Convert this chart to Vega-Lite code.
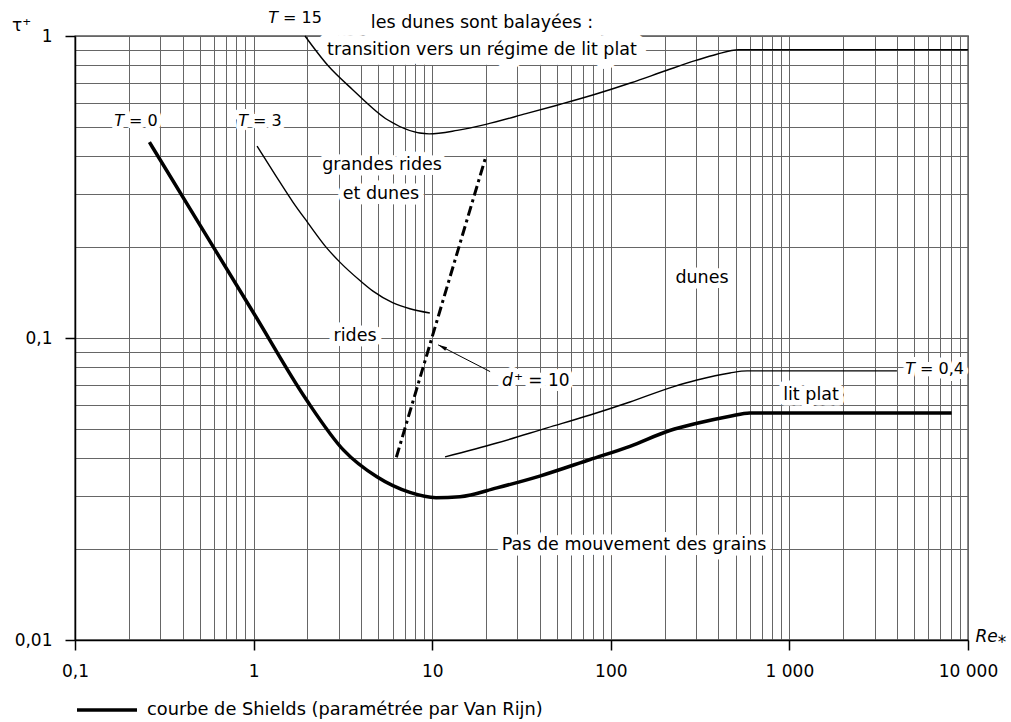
{
  "$schema": "https://vega.github.io/schema/vega-lite/v6.json",
  "width": 893,
  "height": 604,
  "autosize": "none",
  "padding": {"left": 75, "top": 36, "right": 43, "bottom": 82},
  "background": "white",
  "config": {
    "font": "DejaVu Sans",
    "view": {"stroke": "black", "strokeWidth": 1.3},
    "axis": {
      "grid": true,
      "gridColor": "#666666",
      "gridWidth": 1,
      "domainColor": "black",
      "domainWidth": 1.5,
      "tickColor": "black",
      "tickWidth": 1.5,
      "tickSize": 10,
      "labelColor": "black",
      "labelFontSize": 17,
      "labelFont": "DejaVu Sans",
      "labelOverlap": false,
      "labelFlush": false,
      "labelBound": false,
      "titleFont": "DejaVu Sans",
      "titleFontSize": 17,
      "titleFontWeight": "normal",
      "titleColor": "black"
    }
  },
  "datasets": {
    "shields": [
      {"x": 0.261, "y": 0.445}, {"x": 0.5, "y": 0.237}, {"x": 1, "y": 0.121}, {"x": 1.98, "y": 0.0623},
      {"x": 3.18, "y": 0.0426}, {"x": 4.9, "y": 0.0347}, {"x": 7.5, "y": 0.0308}, {"x": 10.5, "y": 0.0296},
      {"x": 14.3, "y": 0.0298}, {"x": 23, "y": 0.0319}, {"x": 40, "y": 0.0349}, {"x": 76.6, "y": 0.0396},
      {"x": 128, "y": 0.0438}, {"x": 214, "y": 0.0494}, {"x": 304, "y": 0.0522}, {"x": 465, "y": 0.0551},
      {"x": 600, "y": 0.0565}, {"x": 8100, "y": 0.0565}
    ],
    "t3": [
      {"x": 1.045, "y": 0.432}, {"x": 1.33, "y": 0.345}, {"x": 1.66, "y": 0.282}, {"x": 2.0, "y": 0.242},
      {"x": 2.58, "y": 0.198}, {"x": 3.05, "y": 0.178}, {"x": 3.94, "y": 0.155}, {"x": 4.66, "y": 0.143},
      {"x": 6.0, "y": 0.131}, {"x": 7.5, "y": 0.125}, {"x": 9.7, "y": 0.121}
    ],
    "t15": [
      {"x": 1.94, "y": 1.0}, {"x": 2.6, "y": 0.8}, {"x": 3.6, "y": 0.663}, {"x": 5.65, "y": 0.527},
      {"x": 9.6, "y": 0.474}, {"x": 13.8, "y": 0.487}, {"x": 20, "y": 0.51}, {"x": 33.5, "y": 0.553},
      {"x": 50, "y": 0.59}, {"x": 81, "y": 0.64}, {"x": 130, "y": 0.7}, {"x": 206, "y": 0.77},
      {"x": 300, "y": 0.83}, {"x": 392, "y": 0.87}, {"x": 520, "y": 0.9}, {"x": 10000, "y": 0.9}
    ],
    "t04": [
      {"x": 11.8, "y": 0.0404}, {"x": 23, "y": 0.0449}, {"x": 44, "y": 0.0504}, {"x": 76.6, "y": 0.0556},
      {"x": 128, "y": 0.0614}, {"x": 223, "y": 0.0689}, {"x": 304, "y": 0.0726}, {"x": 465, "y": 0.0766},
      {"x": 580, "y": 0.0778}, {"x": 4000, "y": 0.0778}
    ],
    "dplus": [{"x": 6.3, "y": 0.0403}, {"x": 20, "y": 0.4}],
    "arrow": [{"x": 21.1, "y": 0.0774}, {"x": 10.8, "y": 0.0949}],
    "arrowHead": [{"x": 10.8, "y": 0.0949}],
    "centerLabels": [
      {"x": 19.0, "y": 1.104, "text": "les dunes sont balayées :"},
      {"x": 19.0, "y": 0.899, "text": "transition vers un régime de lit plat"},
      {"x": 5.24, "y": 0.374, "text": "grandes rides"},
      {"x": 5.16, "y": 0.3, "text": "et dunes"},
      {"x": 3.7, "y": 0.1015, "text": "rides"},
      {"x": 324, "y": 0.158, "text": "dunes"},
      {"x": 1321, "y": 0.0648, "text": "lit plat"},
      {"x": 135, "y": 0.0206, "text": "Pas de mouvement des grains"}
    ],
    "topLabels": [
      {"x": 19.0, "y": 1.104, "text": "les dunes sont balayées :"},
      {"x": 19.0, "y": 0.899, "text": "transition vers un régime de lit plat"}
    ],
    "tLabels": [
      {"x": 1.37, "y": 1.147, "pre": "T", "rest": "= 15"},
      {"x": 0.188, "y": 0.523, "pre": "T", "rest": "= 0"},
      {"x": 0.93, "y": 0.523, "pre": "T", "rest": "= 3"},
      {"x": 5050, "y": 0.0789, "pre": "T", "rest": "= 0,4"}
    ],
    "dLabels": [
      {"x": 28.3, "y": 0.0721, "pre": "d", "rest": "⁺ = 10"}
    ]
  },
  "encoding": {
    "x": {
      "field": "x",
      "type": "quantitative",
      "scale": {"type": "log", "domain": [0.1, 10000], "nice": false},
      "axis": {
        "values": [0.1, 0.2, 0.3, 0.4, 0.5, 0.6, 0.7, 0.8, 0.9, 1, 2, 3, 4, 5, 6, 7, 8, 9, 10, 20, 30, 40, 50, 60, 70, 80, 90, 100, 200, 300, 400, 500, 600, 700, 800, 900, 1000, 2000, 3000, 4000, 5000, 6000, 7000, 8000, 9000, 10000],
        "tickOpacity": {"condition": {"test": "indexof([0.1, 1, 10, 100, 1000, 10000], datum.value) >= 0", "value": 1}, "value": 0},
        "labelExpr": "indexof([0.1, 1, 10, 100, 1000, 10000], datum.value) >= 0 ? replace(replace(format(datum.value, ','), ',', ' '), '.', ',') : ''",
        "labelPadding": 13,
        "title": "Re⁎",
        "titleFontStyle": "italic",
        "titleX": 900,
        "titleY": -4,
        "titleAlign": "left",
        "titleBaseline": "middle",
        "titleAnchor": null
      }
    },
    "y": {
      "field": "y",
      "type": "quantitative",
      "scale": {"type": "log", "domain": [0.01, 1], "nice": false},
      "axis": {
        "values": [0.01, 0.02, 0.03, 0.04, 0.05, 0.06, 0.07, 0.08, 0.09, 0.1, 0.2, 0.3, 0.4, 0.5, 0.6, 0.7, 0.8, 0.9, 1],
        "tickOpacity": {"condition": {"test": "indexof([0.01, 0.1, 1], datum.value) >= 0", "value": 1}, "value": 0},
        "labelExpr": "indexof([0.01, 0.1, 1], datum.value) >= 0 ? replace(format(datum.value, ','), '.', ',') : ''",
        "labelPadding": 13,
        "title": "τ⁺",
        "titleAngle": 0,
        "titleX": -54,
        "titleY": -11,
        "titleAlign": "center",
        "titleBaseline": "middle",
        "titleAnchor": null
      }
    }
  },
  "layer": [
    {
      "data": {"name": "centerLabels"},
      "mark": {"type": "text", "align": "center", "baseline": "middle", "fontSize": 17.5, "fill": "white", "stroke": "white", "strokeWidth": 11, "strokeJoin": "round"},
      "encoding": {"text": {"field": "text"}}
    },
    {
      "data": {"name": "topLabels"},
      "mark": {"type": "text", "align": "center", "baseline": "middle", "fontSize": 17.5, "fill": "white", "stroke": "white", "strokeWidth": 20, "strokeJoin": "round"},
      "encoding": {"text": {"field": "text"}}
    },
    {
      "data": {"name": "tLabels"},
      "mark": {"type": "text", "align": "right", "baseline": "middle", "fontSize": 16, "fontStyle": "italic", "fill": "white", "stroke": "white", "strokeWidth": 10, "strokeJoin": "round"},
      "encoding": {"text": {"field": "pre"}}
    },
    {
      "data": {"name": "tLabels"},
      "mark": {"type": "text", "align": "left", "baseline": "middle", "dx": 5, "fontSize": 16, "fill": "white", "stroke": "white", "strokeWidth": 10, "strokeJoin": "round"},
      "encoding": {"text": {"field": "rest"}}
    },
    {
      "data": {"name": "dLabels"},
      "mark": {"type": "text", "align": "right", "baseline": "middle", "fontSize": 17, "fontStyle": "italic", "fill": "white", "stroke": "white", "strokeWidth": 10, "strokeJoin": "round"},
      "encoding": {"text": {"field": "pre"}}
    },
    {
      "data": {"name": "dLabels"},
      "mark": {"type": "text", "align": "left", "baseline": "middle", "dx": 1, "fontSize": 17, "fill": "white", "stroke": "white", "strokeWidth": 10, "strokeJoin": "round"},
      "encoding": {"text": {"field": "rest"}}
    },
    {
      "data": {"name": "t15"},
      "mark": {"type": "line", "interpolate": "monotone", "stroke": "black", "strokeWidth": 1.4},
      "encoding": {}
    },
    {
      "data": {"name": "t3"},
      "mark": {"type": "line", "interpolate": "monotone", "stroke": "black", "strokeWidth": 1.4},
      "encoding": {}
    },
    {
      "data": {"name": "t04"},
      "mark": {"type": "line", "interpolate": "monotone", "stroke": "black", "strokeWidth": 1.4},
      "encoding": {}
    },
    {
      "data": {"name": "dplus"},
      "mark": {"type": "line", "stroke": "black", "strokeWidth": 3, "strokeDash": [10, 4, 3, 4]},
      "encoding": {}
    },
    {
      "data": {"name": "arrow"},
      "mark": {"type": "line", "stroke": "black", "strokeWidth": 1},
      "encoding": {}
    },
    {
      "data": {"name": "arrowHead"},
      "mark": {"type": "point", "shape": "M0,0L0.4,1.8L-0.4,1.8Z", "size": 100, "filled": true, "fill": "black", "stroke": null, "opacity": 1, "angle": 297.5},
      "encoding": {}
    },
    {
      "data": {"name": "shields"},
      "mark": {"type": "line", "interpolate": "monotone", "strokeWidth": 3.5},
      "encoding": {
        "color": {
          "datum": "courbe de Shields (paramétrée par Van Rijn)",
          "type": "nominal",
          "scale": {"range": ["black"]},
          "legend": {
            "orient": "none",
            "legendX": 0,
            "legendY": 642,
            "title": null,
            "padding": 0,
            "symbolType": "stroke",
            "symbolSize": 3600,
            "symbolStrokeWidth": 3.5,
            "labelOffset": 8,
            "labelFontSize": 17.8,
            "labelFont": "DejaVu Sans",
            "labelColor": "black",
            "labelLimit": 800
          }
        }
      }
    },
    {
      "data": {"name": "centerLabels"},
      "mark": {"type": "text", "align": "center", "baseline": "middle", "fontSize": 17.5, "fill": "black"},
      "encoding": {"text": {"field": "text"}}
    },
    {
      "data": {"name": "tLabels"},
      "mark": {"type": "text", "align": "right", "baseline": "middle", "fontSize": 16, "fontStyle": "italic", "fill": "black"},
      "encoding": {"text": {"field": "pre"}}
    },
    {
      "data": {"name": "tLabels"},
      "mark": {"type": "text", "align": "left", "baseline": "middle", "dx": 5, "fontSize": 16, "fill": "black"},
      "encoding": {"text": {"field": "rest"}}
    },
    {
      "data": {"name": "dLabels"},
      "mark": {"type": "text", "align": "right", "baseline": "middle", "fontSize": 17, "fontStyle": "italic", "fill": "black"},
      "encoding": {"text": {"field": "pre"}}
    },
    {
      "data": {"name": "dLabels"},
      "mark": {"type": "text", "align": "left", "baseline": "middle", "dx": 1, "fontSize": 17, "fill": "black"},
      "encoding": {"text": {"field": "rest"}}
    }
  ]
}
